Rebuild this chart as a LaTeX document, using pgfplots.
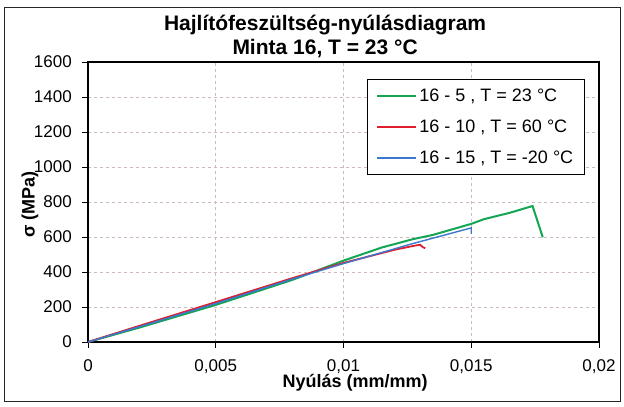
\documentclass[border=0pt]{standalone}
\usepackage{fontspec}
\setmainfont{Liberation Sans}
\usepackage{pgfplots}
\pgfplotsset{compat=1.18}
\definecolor{cgreen}{RGB}{20,165,85}
\definecolor{cred}{RGB}{222,30,45}
\definecolor{cblue}{RGB}{60,120,205}
\definecolor{cgrid}{RGB}{205,185,185}
\begin{document}
\begin{tikzpicture}
\path[use as bounding box] (-88pt,-65pt) rectangle (536pt,342pt);
\draw[black!85, line width=0.9pt] (-84pt,-59pt) rectangle (532pt,335pt);
\begin{axis}[
  at={(0pt,0pt)}, anchor=origin,
  scale only axis, width=511pt, height=280pt,
  xmin=0, xmax=0.02, ymin=0, ymax=1600,
  xtick={0,0.005,0.01,0.015,0.02},
  xticklabels={0,{0,005},{0,01},{0,015},{0,02}},
  scaled x ticks=false,
  ytick={0,200,...,1600},
  yticklabel style={/pgf/number format/1000 sep={}},
  /pgf/number format/assume math mode=true,
  ticklabel style={font=\fontsize{17}{20}\selectfont},
  yticklabel style={inner sep=0pt, xshift=-10pt},
  xticklabel style={inner sep=0pt, yshift=-11pt},
  tick align=outside, tick pos=left,
  major tick length=6pt,
  axis line style={line width=1.3pt},
  every tick/.style={black, line width=0.9pt},
  grid=major,
  major grid style={cgrid, dashed, line width=0.6pt},
  xlabel={\bfseries Nyúlás (mm/mm)},
  ylabel={\bfseries σ (MPa)},
  label style={font=\fontsize{18}{21}\selectfont},
  xlabel style={at={(axis description cs:0.523,-0.147)}, anchor=center},
  ylabel style={at={(axis description cs:-0.1135,0.49)}, anchor=center, rotate=0},
  title={\bfseries Hajlítófeszültség-nyúlásdiagram\\\bfseries Minta 16, T = 23 °C},
  title style={at={(axis description cs:0.464,1)}, anchor=south, align=center, inner sep=0pt, yshift=-1.5pt,
    font=\fontsize{21}{24}\selectfont},
  legend style={at={(rel axis cs:0.546,0.939)}, anchor=north west, draw=black, line width=0.9pt,
    font=\fontsize{18}{22}\selectfont, row sep=13pt, inner xsep=9pt, inner ysep=7.5pt,
    nodes={inner xsep=2pt}},
  legend cell align=left,
  legend image code/.code={\draw[#1, line width=2pt] (0pt,0pt) -- (39pt,0pt);},
]
\addplot[cgreen, line width=2pt] coordinates {
(0,0) (0.002,82) (0.005,212) (0.008,355) (0.01,465) (0.0115,540) (0.0127,587) (0.0135,612)
(0.015,675) (0.0155,702) (0.0165,738) (0.0174,777) (0.0178,598)};
\addlegendentry{16 - 5 , T = 23 °C}
\addplot[cred, line width=1.8pt] coordinates {
(0,0) (0.002,92) (0.005,228) (0.008,365) (0.01,452) (0.012,527) (0.0127,548) (0.0130,556) (0.0131,542) (0.0132,536)};
\addlegendentry{16 - 10 , T = 60 °C}
\addplot[cblue, line width=1.4pt] coordinates {
(0,0) (0.002,87) (0.005,220) (0.008,360) (0.01,448) (0.0127,562) (0.015,652) (0.015,618)};
\addlegendentry{16 - 15 , T = -20 °C}
\end{axis}
\end{tikzpicture}
\end{document}
